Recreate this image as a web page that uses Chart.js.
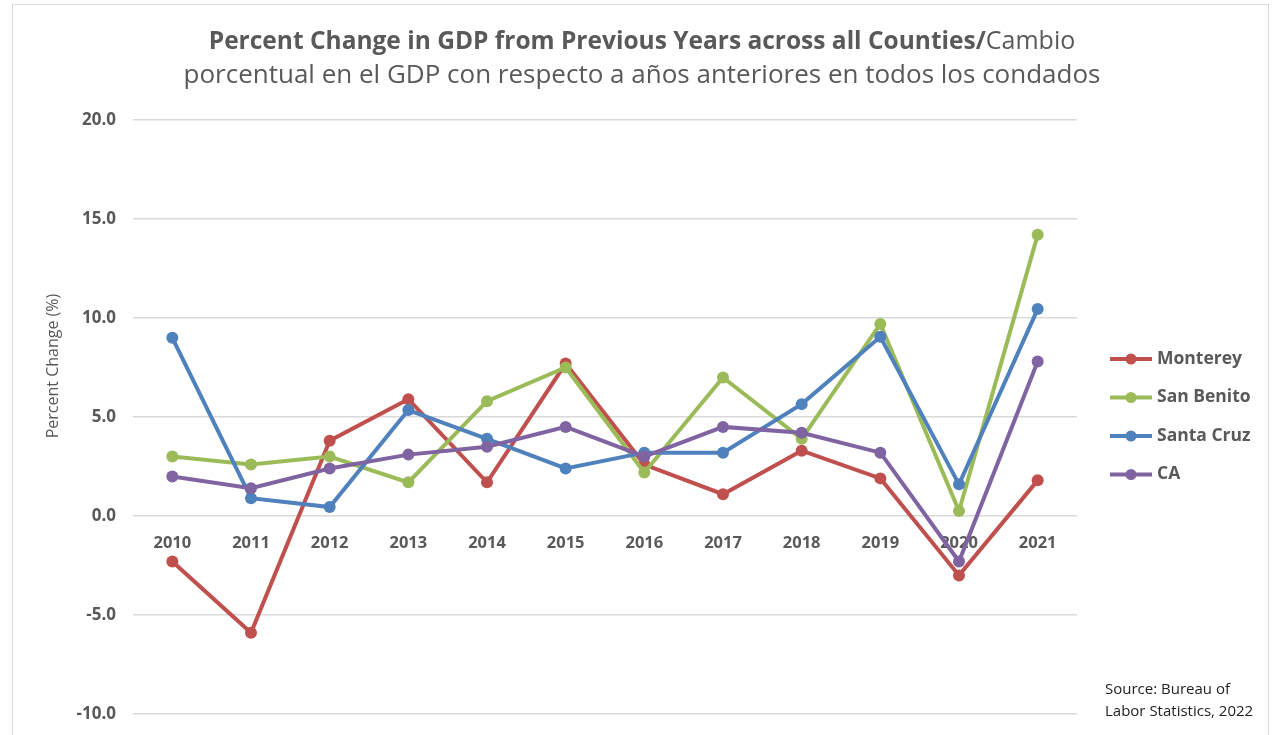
<!DOCTYPE html>
<html>
<head>
<meta charset="utf-8">
<script src="https://cdn.jsdelivr.net/npm/chart.js@4"></script>
<style>
  html, body { margin: 0; padding: 0; background: #fff; }
  #wrap { position: relative; width: 1274px; height: 735px; }
</style>
</head>
<body>
<div id="wrap"><canvas id="gdp"></canvas></div>
<script>
const years = ['2010', '2011', '2012', '2013', '2014', '2015', '2016', '2017', '2018', '2019', '2020', '2021'];
const monterey   = [-2.3, -5.9, 3.8, 5.9, 1.7, 7.7, 2.6, 1.1, 3.3, 1.9, -3.0, 1.8];
const sanBenito  = [3.0, 2.6, 3.0, 1.7, 5.8, 7.5, 2.2, 7.0, 3.9, 9.7, 0.25, 14.2];
const santaCruz  = [9.0, 0.9, 0.45, 5.35, 3.9, 2.4, 3.2, 3.2, 5.65, 9.05, 1.6, 10.45];
const caState    = [2.0, 1.4, 2.4, 3.1, 3.5, 4.5, 3.0, 4.5, 4.2, 3.2, -2.3, 7.8];
const seriesNames = ['Monterey', 'San Benito', 'Santa Cruz', 'CA'];
const seriesColors = ['#C0504D', '#9BBB59', '#4F81BD', '#8064A2'];
const yTicks = [-10, -5, 0, 5, 10, 15, 20];

const textGray = '#595959';
const font = '"Open Sans", "DejaVu Sans", sans-serif';

function makeSet(label, data, i) {
  return {
    label: label,
    data: data,
    borderColor: seriesColors[i],
    backgroundColor: seriesColors[i],
    borderWidth: 4,
    pointRadius: 6,
    pointBorderWidth: 0,
    pointHoverRadius: 6,
    tension: 0,
    order: 3 - i  // later series on top, like Excel
  };
}

// title, axis title, legend and source note drawn onto the canvas
const extras = {
  id: 'extras',
  beforeDraw(chart) {
    const c = chart.ctx;
    c.save();
    c.fillStyle = '#fff';
    c.fillRect(0, 0, chart.width, chart.height);
    c.strokeStyle = '#D9D9D9';
    c.lineWidth = 1;
    c.strokeRect(12.5, 4.5, 1256, 760);
    c.restore();
  },
  afterDraw(chart) {
    const c = chart.ctx;
    c.save();
    c.fillStyle = textGray;
    c.textBaseline = 'middle';

    // title line 1: bold part + regular part
    const boldTxt = 'Percent Change in GDP from Previous Years across all Counties/';
    const regTxt = 'Cambio';
    c.font = 'bold 24.5px ' + font;
    const w1 = c.measureText(boldTxt).width;
    c.font = '25px ' + font;
    const w2 = c.measureText(regTxt).width;
    let x = 642 - (w1 + w2) / 2;
    c.textAlign = 'left';
    c.font = 'bold 24.5px ' + font;
    c.fillText(boldTxt, x, 42);
    c.font = '25px ' + font;
    c.fillText(regTxt, x + w1, 42);
    c.textAlign = 'center';
    c.font = '26px ' + font;
    c.fillText('porcentual en el GDP con respecto a años anteriores en todos los condados', 642, 76);

    // y axis title
    c.save();
    c.translate(53, 366);
    c.rotate(-Math.PI / 2);
    c.font = '16px ' + font;
    c.fillText('Percent Change (%)', 0, 0);
    c.restore();

    // legend
    c.textAlign = 'left';
    c.font = 'bold 17.5px ' + font;
    seriesNames.forEach((name, i) => {
      const y = 359 + i * 38.5;
      c.strokeStyle = seriesColors[i];
      c.lineWidth = 4;
      c.beginPath();
      c.moveTo(1110, y);
      c.lineTo(1152, y);
      c.stroke();
      c.fillStyle = seriesColors[i];
      c.beginPath();
      c.arc(1131, y, 5.5, 0, Math.PI * 2);
      c.fill();
      c.fillStyle = textGray;
      c.fillText(name, 1157, y);
    });

    // source note
    c.fillStyle = '#222';
    c.font = '15px ' + font;
    c.fillText('Source: Bureau of', 1105, 690);
    c.fillText('Labor Statistics, 2022', 1105, 712);
    c.restore();
  }
};

new Chart(document.getElementById('gdp'), {
  type: 'line',
  data: {
    labels: years,
    datasets: [
      makeSet(seriesNames[0], monterey, 0),
      makeSet(seriesNames[1], sanBenito, 1),
      makeSet(seriesNames[2], santaCruz, 2),
      makeSet(seriesNames[3], caState, 3)
    ]
  },
  options: {
    responsive: true,
    maintainAspectRatio: false,
    animation: false,
    layout: {
      padding: { left: 0, right: 197, top: 120, bottom: 21 }
    },
    scales: {
      x: {
        position: { y: 0 },
        offset: true,
        grid: { display: false, drawTicks: false },
        border: { display: false },
        ticks: {
          color: textGray,
          padding: 17,
          font: { family: font, size: 16.5, weight: 'bold' }
        }
      },
      y: {
        min: -10,
        max: 20,
        afterFit: s => {
          s.width = 133;
          s.paddingTop = 0;
          s.paddingBottom = 0;
        },
        afterBuildTicks: s => { s.ticks = yTicks.map(v => ({ value: v })); },
        grid: { color: '#D9D9D9', lineWidth: 1.5, drawTicks: false },
        border: { display: false },
        ticks: {
          color: textGray,
          padding: 17,
          font: { family: font, size: 17, weight: 'bold' },
          callback: v => v.toFixed(1)
        }
      }
    },
    plugins: {
      legend: { display: false },
      title: { display: false },
      tooltip: { enabled: false }
    }
  },
  plugins: [extras]
});
</script>
</body>
</html>
